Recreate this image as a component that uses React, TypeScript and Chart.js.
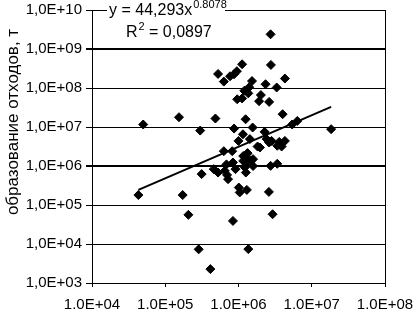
import React, { useEffect, useRef } from "react";
import { Chart, registerables } from "chart.js";

Chart.register(...registerables);

// Scatter data: x = объём (т), y = образование отходов (т)
const xValues: number[] = [
  5.0e4, 4.3e4, 1.54e5, 1.73e5, 2.07e5, 3.0e5, 3.14e5, 2.86e5, 4.13e5, 5.26e5,
  6.3e5, 4.84e5, 4.59e5, 5.26e5, 6.3e5, 6.85e5, 6.98e5, 7.2e5, 7.67e5, 8.7e5,
  9.5e5, 8.2e5, 8.4e5, 8.7e5, 8.4e5, 9.1e5, 9.6e5, 1.0e6, 1.01e6, 1.04e6,
  1.12e6, 1.12e6, 1.15e6, 1.16e6, 1.25e6, 1.26e6, 1.27e6, 1.3e6, 1.36e6, 1.36e6,
  1.4e6, 1.33e6, 1.36e6, 1.43e6, 1.49e6, 1.53e6, 1.56e6, 2.02e6, 1.91e6, 1.82e6,
  1.96e6, 2.34e6, 2.27e6, 2.62e6, 2.74e6, 2.77e6, 2.6e6, 2.92e6, 2.74e6, 2.62e6,
  2.42e6, 3.32e6, 3.38e6, 3.6e6, 4.0e6, 4.3e6, 3.88e6, 4.3e6, 5.4e6, 6.35e6,
  1.84e7, 2.83e6, 1.29e6, 1.16e6, 1.58e6, 6.5e5, 1.22e6, 1.58e6, 3.38e6, 1.2e6,
];
const yValues: number[] = [
  1.16e7, 1.8e5, 1.78e7, 1.8e5, 5.6e4, 8.1e6, 6.2e5, 7.3e3, 2.27e3, 2.29e8,
  1.46e8, 1.65e7, 8.3e5, 6.8e5, 2.4e6, 1.1e6, 5.9e5, 4.6e5, 2.0e8, 2.25e8,
  2.7e8, 2.4e6, 1.23e6, 9.1e6, 3.9e4, 8.3e5, 5.15e7, 4.4e6, 2.8e5, 2.1e5,
  4.06e8, 5.4e7, 6.5e6, 1.8e6, 1.58e7, 6.8e5, 1.05e6, 2.44e5, 7.4e3, 7.3e7,
  1.05e8, 2.14e6, 1.5e6, 4.9e6, 1.38e6, 1.51e8, 9.7e6, 6.6e7, 4.6e7, 3.16e6,
  2.98e6, 1.25e8, 7.5e6, 4.4e7, 2.38e9, 3.9e8, 2.17e5, 5.8e4, 1.01e6, 4.0e6,
  4.9e6, 1.03e8, 1.14e6, 4.15e6, 2.13e7, 1.75e8, 3.16e6, 4.4e6, 1.16e7, 1.43e7,
  8.8e6, 4.4e6, 2.0e6, 1.35e6, 1.5e6, 7.5e5, 9.2e5, 1.0e6, 3.3e6, 8.5e7,
];

// Power trend line y = a * x^b (as printed on the chart)
const trendA = 44.293;
const trendB = 0.8078;
const equationText = "y = 44,293x";
const equationExp = "0.8078";
const r2Value = "0,0897";

const xTickValues: number[] = [1e4, 1e5, 1e6, 1e7, 1e8];
const yTickValues: number[] = [1e3, 1e4, 1e5, 1e6, 1e7, 1e8, 1e9, 1e10];
const yTitle = "образование отходов, т";

const FONT = "'Liberation Sans', Arial, sans-serif";

export default function App() {
  const canvasRef = useRef<HTMLCanvasElement | null>(null);

  useEffect(() => {
    document.body.style.margin = "0";
    const canvas = canvasRef.current;
    if (!canvas) return;

    const points = xValues.map((x, i) => ({ x, y: yValues[i] }));
    const xMin = Math.min(...xValues);
    const xMax = Math.max(...xValues);
    const trend = [
      { x: xMin, y: trendA * Math.pow(xMin, trendB) },
      { x: xMax, y: trendA * Math.pow(xMax, trendB) },
    ];

    const overlay = {
      id: "overlay",
      afterDraw(chart: any) {
        const ctx = chart.ctx;
        const a = chart.chartArea;
        ctx.save();
        // plot-area right border
        ctx.strokeStyle = "#000";
        ctx.lineWidth = 1;
        ctx.beginPath();
        ctx.moveTo(Math.round(a.right) + 0.5, a.top);
        ctx.lineTo(Math.round(a.right) + 0.5, a.bottom);
        ctx.stroke();
        // equation label
        ctx.fillStyle = "#fff";
        ctx.fillRect(107, 0, 118, 21);
        ctx.fillStyle = "#000";
        ctx.textBaseline = "alphabetic";
        ctx.textAlign = "left";
        ctx.font = `16px ${FONT}`;
        ctx.fillText(equationText, 109, 15);
        const w1 = ctx.measureText(equationText).width;
        ctx.font = `11px ${FONT}`;
        ctx.fillText(equationExp, 109 + w1 + 1, 8);
        ctx.font = `16px ${FONT}`;
        ctx.fillText("R", 126, 37);
        const wr = ctx.measureText("R").width;
        ctx.font = `11px ${FONT}`;
        ctx.fillText("2", 126 + wr + 1, 30);
        ctx.font = `16px ${FONT}`;
        ctx.fillText(" = " + r2Value, 126 + wr + 7, 37);
        // y axis title
        ctx.translate(13, 122);
        ctx.rotate(-Math.PI / 2);
        ctx.textAlign = "center";
        ctx.textBaseline = "middle";
        ctx.font = `17px ${FONT}`;
        ctx.fillText(yTitle, 0, 0);
        ctx.restore();
      },
    };

    const chart = new Chart(canvas, {
      type: "scatter",
      data: {
        datasets: [
          {
            data: points,
            pointStyle: "rectRot",
            pointRadius: 4.5,
            pointBorderWidth: 1,
            backgroundColor: "#000",
            borderColor: "#000",
            showLine: false,
          },
          {
            data: trend,
            showLine: true,
            borderColor: "#000",
            borderWidth: 2,
            pointRadius: 0,
            fill: false,
          },
        ],
      },
      options: {
        responsive: false,
        animation: false,
        events: [],
        layout: { padding: { top: 10, right: 28, left: 0, bottom: 0 } },
        plugins: { legend: { display: false }, tooltip: { enabled: false } },
        scales: {
          x: {
            type: "logarithmic",
            min: 1e4,
            max: 1e8,
            afterBuildTicks: (s: any) => {
              s.ticks = xTickValues.map((v) => ({ value: v }));
            },
            afterFit: (s: any) => {
              s.height = 29;
              s.paddingLeft = 0;
              s.paddingRight = 0;
            },
            ticks: {
              autoSkip: false,
              maxRotation: 0,
              padding: 9,
              color: "#000",
              font: { family: FONT, size: 15 },
              callback: (v: any) => {
                const e = Math.round(Math.log10(Number(v)));
                return "1.0E+" + String(e).padStart(2, "0");
              },
            },
            grid: { drawOnChartArea: false, color: "#000", tickLength: 4, lineWidth: 1 },
            border: { color: "#000", width: 1 },
          },
          y: {
            type: "logarithmic",
            min: 1e3,
            max: 1e10,
            afterBuildTicks: (s: any) => {
              s.ticks = yTickValues.map((v) => ({ value: v }));
            },
            afterFit: (s: any) => {
              s.width = 92;
              s.paddingTop = 0;
              s.paddingBottom = 0;
            },
            ticks: {
              autoSkip: false,
              padding: 4,
              color: "#000",
              font: { family: FONT, size: 15 },
              callback: (v: any) => {
                const e = Math.round(Math.log10(Number(v)));
                return "1,0E+" + String(e).padStart(2, "0");
              },
            },
            grid: {
              color: "#000",
              tickLength: 6,
              lineWidth: (c: any) =>
                c.tick && (c.tick.value === 1e9 || c.tick.value === 1e6) ? 2 : 1,
            },
            border: { color: "#000", width: 1 },
          },
        },
      },
      plugins: [overlay],
    });

    return () => chart.destroy();
  }, []);

  return <canvas ref={canvasRef} width={413} height={312} style={{ display: "block" }} />;
}
